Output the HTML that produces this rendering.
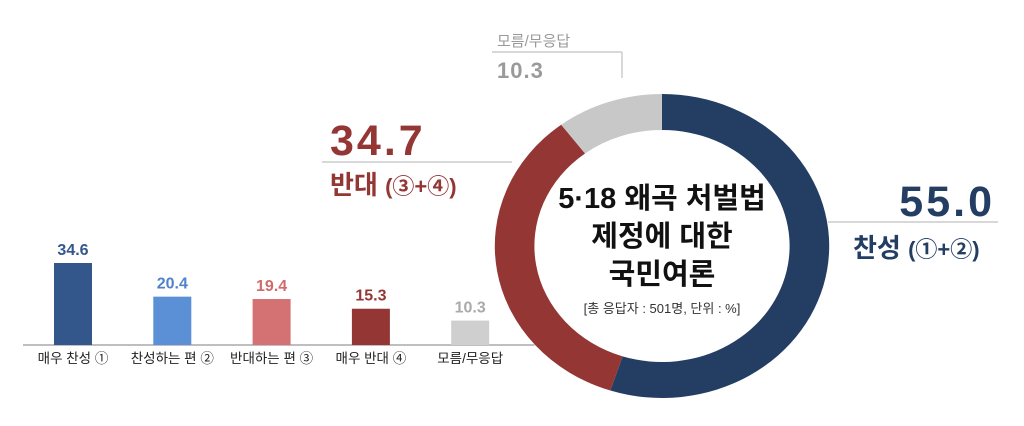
<!DOCTYPE html>
<html><head><meta charset="utf-8"><style>
body{margin:0;background:#fff;}
svg text{font-family:"Liberation Sans","Noto Sans CJK KR",sans-serif;}
</style></head><body>
<svg width="1024" height="421" viewBox="0 0 1024 421">
<g id="bars"></g>
<g id="donut"></g>
<g>
 <line x1="492" y1="52" x2="622" y2="52" stroke="#ccc" stroke-width="1.5"/>
 <line x1="622" y1="52" x2="622" y2="78" stroke="#ccc" stroke-width="1.5"/>
 <text x="497" y="46" font-size="15" fill="#999">모름/무응답</text>
 <text x="497" y="78" font-size="22" font-weight="bold" fill="#9a9a9a" letter-spacing="1">10.3</text>
 <line x1="322" y1="162" x2="512" y2="162" stroke="#ccc" stroke-width="1.5"/>
 <text x="330" y="155" font-size="43" font-weight="bold" fill="#943634" letter-spacing="3">34.7</text>
 <text x="330" y="194" font-size="26" font-weight="bold" fill="#943634">반대 <tspan font-size="22">(③+④)</tspan></text>
 <line x1="828" y1="222" x2="998" y2="222" stroke="#ccc" stroke-width="1.5"/>
 <text x="995" y="216" text-anchor="end" font-size="43" font-weight="bold" fill="#243e63" letter-spacing="3">55.0</text>
 <text x="853" y="257" font-size="26" font-weight="bold" fill="#243e63">찬성 <tspan font-size="22">(①+②)</tspan></text>
</g>
<g text-anchor="middle" fill="#111" font-weight="bold">
 <text x="662" y="208" font-size="29">5·18 왜곡 처벌법</text>
 <text x="662" y="246" font-size="29">제정에 대한</text>
 <text x="662" y="284" font-size="29">국민여론</text>
 <text x="662" y="313" font-size="13" font-weight="normal" fill="#333">[총 응답자 : 501명, 단위 : %]</text>
</g>
</svg>
<script>
const barCats=["매우 찬성 ①","찬성하는 편 ②","반대하는 편 ③","매우 반대 ④","모름/무응답"];
const barVals=[34.6,20.4,19.4,15.3,10.3];
const barLabels=["34.6","20.4","19.4","15.3","10.3"];
const donutCats=["찬성","반대","모름/무응답"];
const donutVals=[55.0,34.7,10.3];
const NS="http://www.w3.org/2000/svg";
function mk(t,a,p){const e=document.createElementNS(NS,t);for(const k in a)e.setAttribute(k,a[k]);p.appendChild(e);return e;}
const barColors=["#33578a","#5b8fd6","#d47172","#943634","#cfcfcf"];
const textColors=["#33578a","#4f83c9","#d06a6b","#943634","#aaa"];
const g=document.getElementById('bars');
const base=345, x0=23, step=99.3, bw=38, sy=2.37;
const xc=i=>x0+50+i*step;
const yv=v=>base-v*sy;
const ax=mk('line',{x1:x0,y1:base,x2:x0+step*5+15,y2:base,stroke:'#aaa','stroke-width':1.5},g);


barVals.forEach((v,i)=>{
 const r=mk('rect',{x:xc(i)-bw/2,y:yv(v),width:bw,height:base-yv(v),fill:barColors[i]},g);
 
 
 const t=mk('text',{x:xc(i),y:yv(v)-8,'text-anchor':'middle','font-size':16,'font-weight':'bold',fill:textColors[i]},g);
 t.textContent=barLabels[i];
 
 
 const c=mk('text',{x:xc(i),y:base+18,'text-anchor':'middle','font-size':13.5,fill:'#222'},g);
 c.textContent=barCats[i];
 
 
});
const dg=document.getElementById('donut');
const cx=662, cy=246, rr=134, thick=34, sx=1.1;
const dColors=["#243e63","#943634","#c8c8c8"];
const tot=donutVals.reduce((a,b)=>a+b,0);
let acc=0;
const pt=(a,r)=>[cx+sx*r*Math.sin(a),cy-r*Math.cos(a)];
const ro=rr+thick/2+1, ri=rr-thick/2-1;
donutVals.forEach((v,i)=>{
 const a0=acc/tot*2*Math.PI; acc+=v; const a1=acc/tot*2*Math.PI;
 const lg=(a1-a0)>Math.PI?1:0;
 const [x1,y1]=pt(a0,ro),[x2,y2]=pt(a1,ro),[x3,y3]=pt(a1,ri),[x4,y4]=pt(a0,ri);
 const d=`M${x1},${y1}A${sx*ro},${ro} 0 ${lg} 1 ${x2},${y2}L${x3},${y3}A${sx*ri},${ri} 0 ${lg} 0 ${x4},${y4}Z`;
 const p=mk('path',{d:d,fill:dColors[i]},dg);
 
 
});
</script>
</body></html>
